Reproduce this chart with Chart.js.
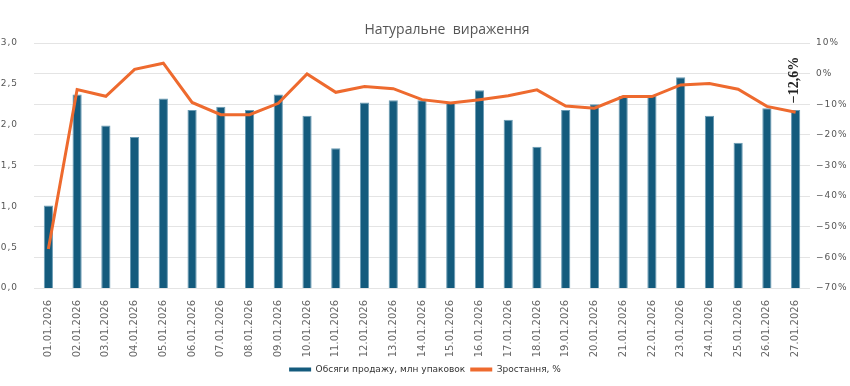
<!DOCTYPE html>
<html>
<head>
<meta charset="utf-8">
<script src="https://cdn.jsdelivr.net/npm/chart.js@4.4.0/dist/chart.umd.min.js"></script>
<style>
  html, body { margin: 0; padding: 0; background: #fff; }
  #wrap { width: 850px; height: 386px; }
</style>
</head>
<body>
<div id="wrap"><canvas id="grafica" width="850" height="386"></canvas></div>
<script>
const dates = [
  "01.01.2026", "02.01.2026", "03.01.2026", "04.01.2026", "05.01.2026", "06.01.2026",
  "07.01.2026", "08.01.2026", "09.01.2026", "10.01.2026", "11.01.2026", "12.01.2026",
  "13.01.2026", "14.01.2026", "15.01.2026", "16.01.2026", "17.01.2026", "18.01.2026",
  "19.01.2026", "20.01.2026", "21.01.2026", "22.01.2026", "23.01.2026", "24.01.2026",
  "25.01.2026", "26.01.2026", "27.01.2026"
];
// обсяги продажу, млн упаковок
const volumes = [
  1.01, 2.37, 1.99, 1.85, 2.32, 2.18, 2.22, 2.18, 2.37, 2.11, 1.71, 2.27, 2.30, 2.30,
  2.27, 2.42, 2.06, 1.73, 2.18, 2.25, 2.35, 2.35, 2.58, 2.11, 1.78, 2.20, 2.18
];
// зростання, %
const growth = [
  -57.3, -5.2, -7.4, 1.4, 3.4, -9.4, -13.4, -13.4, -9.7, -0.1, -6.1, -4.2, -4.9, -8.5,
  -9.6, -8.5, -7.2, -5.3, -10.6, -11.3, -7.5, -7.5, -3.7, -3.2, -5.1, -10.7, -12.6
];

const titleText = "Натуральне  вираження";
const grey = "#555";

const titlePlugin = {
  id: "titleText",
  afterDraw(chart) {
    const ctx = chart.ctx;
    ctx.save();
    ctx.letterSpacing = "0px";
    ctx.font = "14px 'Open Sans'";
    ctx.fillStyle = grey;
    ctx.textAlign = "center";
    ctx.textBaseline = "middle";
    ctx.fillText(titleText, 447, 30);
    ctx.restore();
  }
};

// розрядка підписів вертикальних осей
const spacedTicks = {
  id: "spacedTicks",
  afterUpdate(chart) {
    ["y", "y1"].forEach((id) => {
      const s = chart.scales[id];
      if (!s || s._spaced) return;
      const orig = s.drawLabels;
      s.drawLabels = function (area) {
        const ctx = this.ctx;
        ctx.save();
        ctx.letterSpacing = "1px";
        orig.call(this, area);
        ctx.restore();
      };
      s._spaced = true;
    });
  }
};

// підпис останнього значення
const lastLabel = {
  id: "lastLabel",
  afterDatasetsDraw(chart) {
    const meta = chart.getDatasetMeta(1);
    const pt = meta.data[meta.data.length - 1];
    const v = growth[growth.length - 1];
    const ctx = chart.ctx;
    ctx.save();
    ctx.translate(pt.x - 1, pt.y - 9);
    ctx.rotate(-Math.PI / 2);
    ctx.font = "bold 14px 'Liberation Serif'";
    ctx.fillStyle = "#222";
    ctx.textAlign = "left";
    ctx.textBaseline = "middle";
    ctx.fillText("\u2212" + Math.abs(v).toFixed(1).replace(".", ",") + "%", 0, 0);
    ctx.restore();
  }
};

const tickFont = { family: "'DejaVu Sans'", size: 9 };

const config = {
  type: "bar",
  data: {
    labels: dates,
    datasets: [
      {
        label: "Обсяги продажу, млн упаковок",
        data: volumes,
        yAxisID: "y",
        backgroundColor: "#145b7d",
        borderColor: "#6a9bb4",
        borderWidth: 1,
        barPercentage: 0.32,
        categoryPercentage: 1,
        order: 2
      },
      {
        type: "line",
        label: "Зростання, %",
        data: growth,
        yAxisID: "y1",
        borderColor: "#ee6a2e",
        backgroundColor: "#ee6a2e",
        borderWidth: 3,
        pointRadius: 0,
        tension: 0,
        order: 1
      }
    ]
  },
  options: {
    responsive: false,
    animation: false,
    layout: { padding: { top: 43, bottom: 2 } },
    plugins: {
      title: { display: false },
      tooltip: { enabled: false },
      legend: {
        position: "bottom",
        labels: {
          font: { family: "'DejaVu Sans'", size: 9 },
          color: "#333",
          boxWidth: 22,
          boxHeight: 4,
          padding: 5,
          generateLabels(chart) {
            return chart.data.datasets.map((d, i) => ({
              text: d.label,
              fillStyle: d.type === "line" ? d.borderColor : d.backgroundColor,
              strokeStyle: "transparent",
              lineWidth: 0,
              fontColor: "#333",
              datasetIndex: i,
              hidden: false
            }));
          }
        }
      }
    },
    scales: {
      x: {
        grid: { display: false },
        border: { display: false },
        ticks: {
          font: { family: "'DejaVu Sans'", size: 10 },
          color: "#666",
          minRotation: 90,
          maxRotation: 90,
          autoSkip: false,
          padding: 4
        },
        afterFit(s) { s.height = 72; }
      },
      y: {
        position: "left",
        min: 0,
        max: 3,
        grid: { display: false },
        border: { display: false },
        ticks: {
          stepSize: 0.5,
          font: tickFont,
          color: grey,
          padding: 8,
          callback: (v) => v.toFixed(1).replace(".", ",")
        },
        afterFit(s) { s.width = 34; }
      },
      y1: {
        position: "right",
        min: -70,
        max: 10,
        grid: { color: "#e4e4e4", drawTicks: false },
        border: { display: false },
        ticks: {
          stepSize: 10,
          font: tickFont,
          color: grey,
          padding: 6,
          callback: (v) => (v < 0 ? "\u2212" + Math.abs(v) : v) + "%"
        },
        afterFit(s) { s.width = 40; }
      }
    }
  },
  plugins: [spacedTicks, titlePlugin, lastLabel]
};

const ctx = document.getElementById("grafica").getContext("2d");
window.myChart = new Chart(ctx, config);
</script>
</body>
</html>
